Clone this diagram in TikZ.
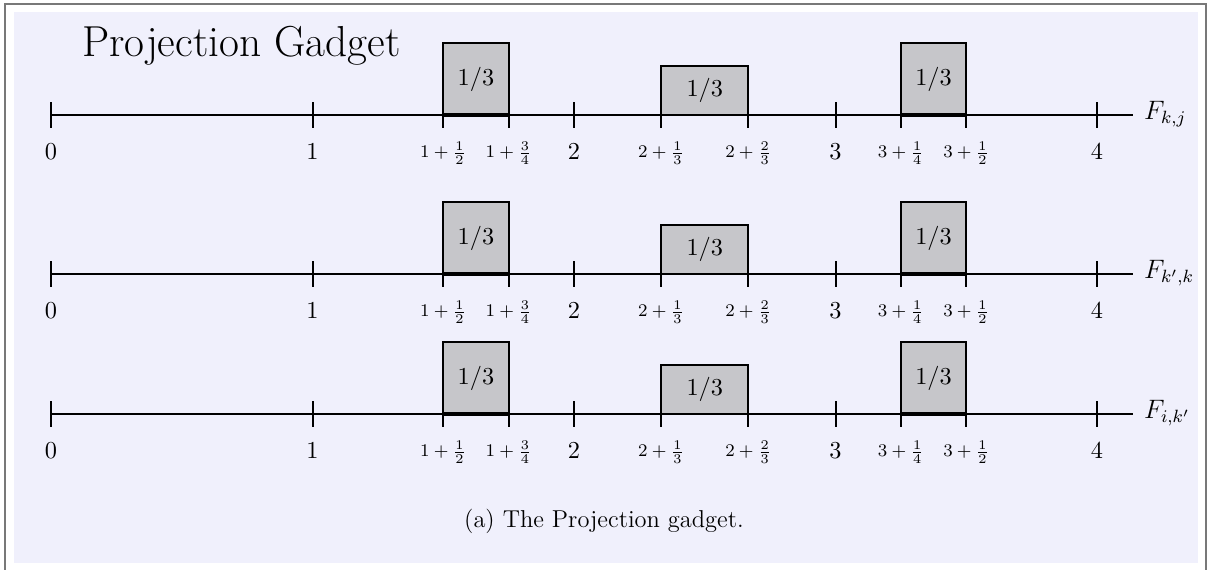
\documentclass[tikz,border=0pt]{standalone}
\usepackage{amsmath,amssymb}
\usepackage{xcolor}
\usepackage{tikz}
\usetikzlibrary{positioning,calc}
\definecolor{panelbg}{RGB}{240, 240, 252}
\definecolor{framegray}{RGB}{120, 120, 120}
\definecolor{massgray}{RGB}{198, 198, 202}

\begin{document}
\begin{tikzpicture}[x=0.45pt, y=-0.45pt, every node/.style={font=\fontsize{11}{13}\selectfont},
    axisline/.style={line width=0.9pt, black},
    massbox/.style={line width=0.9pt, draw=black, fill=massgray}]
    \useasboundingbox (0,0) rectangle (1208,570);

    % Panel
    \fill[panelbg] (14,12) rectangle (1198,563);
    \draw[framegray, line width=0.7pt] (5,570) -- (5,4) -- (1206,4) -- (1206,570);

    % Title
    \node[anchor=base west, inner sep=0pt, font=\fontsize{19.5}{23}\selectfont] (title) at (82,57) {Projection Gadget};

    % Three number lines
    \foreach \y/\lab/\id in {115/{F_{k,j}}/a, 274/{F_{k',k}}/b, 414/{F_{i,k'}}/c} {
      \begin{scope}[shift={(51,\y)}, x=117.675pt]
        % Mass boxes
        \draw[massbox] (1.5,0) rectangle (1.75,-72);
        \draw[massbox] (2.3333,0) rectangle (2.6667,-49);
        \draw[massbox] (3.25,0) rectangle (3.5,-72);
        \draw[line width=1.6pt] (1.5,0) -- (1.75,0) (3.25,0) -- (3.5,0);
        \node (ma\id) at (1.625,-36) {$1/3$};
        \node (mb\id) at (2.5,-24.5) {$1/3$};
        \node (mc\id) at (3.375,-36) {$1/3$};

        % Axis and ticks
        \draw[axisline] (0,0) -- (4.138,0);
        \foreach \t in {0,...,4} {
          \draw[axisline] (\t,-13) -- (\t,13);
          \node[inner sep=1pt] (n\t\id) at (\t,37) {$\t$};
        }
        \foreach \t/\txt/\n in {1.5/{1+\frac{1}{2}}/p, 1.75/{1+\frac{3}{4}}/q, 2.3333/{2+\frac{1}{3}}/r,
                                 2.6667/{2+\frac{2}{3}}/s, 3.25/{3+\frac{1}{4}}/u, 3.5/{3+\frac{1}{2}}/v} {
          \draw[axisline] (\t,0) -- (\t,13);
          \node[font=\footnotesize, inner sep=1pt] (f\n\id) at (\t,38) {$\txt$};
        }
        \node[anchor=west, inner sep=1pt, font=\large] (F\id) at (4.17,-1) {$\lab$};
      \end{scope}
    }

    % Caption
    \node (caption) at (604,521) {(a) The Projection gadget.};
\end{tikzpicture}
\end{document}
